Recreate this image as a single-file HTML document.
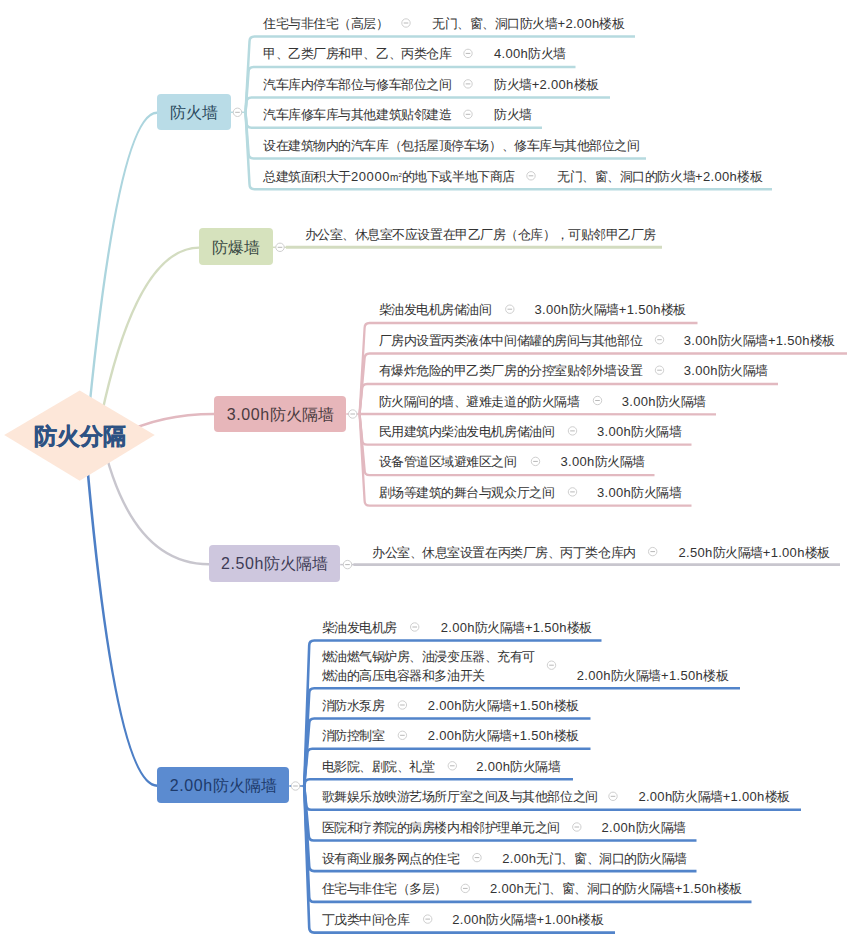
<!DOCTYPE html>
<html><head><meta charset="utf-8"><style>
html,body{margin:0;padding:0;background:#fff;}
body{width:853px;height:943px;position:relative;overflow:hidden;font-family:"Liberation Sans",sans-serif;}
svg{position:absolute;left:0;top:0;}
.box{position:absolute;border-radius:4px;text-align:center;white-space:nowrap;}
.t{position:absolute;white-space:nowrap;font-size:13px;letter-spacing:-0.45px;color:#333;}
.t .l{letter-spacing:0.3px;}
.box .l{letter-spacing:0.6px;}
.m2{font-size:10px;letter-spacing:0;}
.m2 sup{font-size:6px;vertical-align:4px;line-height:0;}
.root{position:absolute;left:0;top:421px;width:160px;text-align:center;font-size:23px;font-weight:bold;color:#2d5283;line-height:30px;-webkit-text-stroke:0.4px #2d5283;}
</style></head><body>
<svg width="853" height="943" viewBox="0 0 853 943">
<path d="M86.7,435 Q117.2,112.8 157,112.8" fill="none" stroke="#acd5de" stroke-width="2.4"/>
<line x1="231" y1="112.3" x2="246.5" y2="112.3" stroke="#b6dadf" stroke-width="1.5"/>
<path d="M245.5,112.3 L249.50,41.5 Q249.50,36.5 254.50,36.5 L635,36.5" fill="none" stroke="#b6dadf" stroke-width="2.5" stroke-linejoin="round"/>
<circle cx="406" cy="23.0" r="4.2" fill="#fff" stroke="#cfcfcf" stroke-width="1"/><line x1="403.7" y1="23.0" x2="408.3" y2="23.0" stroke="#b8b8b8" stroke-width="1"/>
<path d="M245.5,112.3 L248.53,71.9 Q248.53,66.9 253.53,66.9 L575.5,66.9" fill="none" stroke="#b6dadf" stroke-width="2.5" stroke-linejoin="round"/>
<circle cx="468" cy="53.400000000000006" r="4.2" fill="#fff" stroke="#cfcfcf" stroke-width="1"/><line x1="465.7" y1="53.400000000000006" x2="470.3" y2="53.400000000000006" stroke="#b8b8b8" stroke-width="1"/>
<path d="M245.5,112.3 L246.49,102.4 Q246.49,97.4 251.49,97.4 L610,97.4" fill="none" stroke="#b6dadf" stroke-width="2.5" stroke-linejoin="round"/>
<circle cx="468" cy="83.9" r="4.2" fill="#fff" stroke="#cfcfcf" stroke-width="1"/><line x1="465.7" y1="83.9" x2="470.3" y2="83.9" stroke="#b8b8b8" stroke-width="1"/>
<path d="M245.5,112.3 L246.53,122.8 Q246.53,127.8 251.53,127.8 L542,127.8" fill="none" stroke="#b6dadf" stroke-width="2.5" stroke-linejoin="round"/>
<circle cx="468" cy="114.3" r="4.2" fill="#fff" stroke="#cfcfcf" stroke-width="1"/><line x1="465.7" y1="114.3" x2="470.3" y2="114.3" stroke="#b8b8b8" stroke-width="1"/>
<path d="M245.5,112.3 L248.58,153.5 Q248.58,158.5 253.58,158.5 L646,158.5" fill="none" stroke="#b6dadf" stroke-width="2.5" stroke-linejoin="round"/>
<path d="M245.5,112.3 L249.50,184.3 Q249.50,189.3 254.50,189.3 L772,189.3" fill="none" stroke="#b6dadf" stroke-width="2.5" stroke-linejoin="round"/>
<circle cx="531" cy="175.8" r="4.2" fill="#fff" stroke="#cfcfcf" stroke-width="1"/><line x1="528.7" y1="175.8" x2="533.3" y2="175.8" stroke="#b8b8b8" stroke-width="1"/>
<circle cx="237.5" cy="112.3" r="4.2" fill="#fff" stroke="#cfcfcf" stroke-width="1"/><line x1="235.2" y1="112.3" x2="239.8" y2="112.3" stroke="#b8b8b8" stroke-width="1"/>
<path d="M97.5,435 Q133.8,247.6 199.4,247.6" fill="none" stroke="#d3dcc0" stroke-width="2.4"/>
<line x1="273.0" y1="247.3" x2="288" y2="247.3" stroke="#d3dcc0" stroke-width="1.5"/>
<line x1="286" y1="247.3" x2="662" y2="247.3" stroke="#d3dcc0" stroke-width="3"/>
<circle cx="280" cy="247.3" r="4.2" fill="#fff" stroke="#cfcfcf" stroke-width="1"/><line x1="277.7" y1="247.3" x2="282.3" y2="247.3" stroke="#b8b8b8" stroke-width="1"/>
<path d="M120,435 Q160,414 214.3,414" fill="none" stroke="#e2b9c0" stroke-width="2.4"/>
<line x1="346.3" y1="414" x2="360.6" y2="414" stroke="#e2b9c0" stroke-width="1.5"/>
<path d="M359.6,414 L364.60,328 Q364.60,323 369.60,323 L697.5,323" fill="none" stroke="#e2b9c0" stroke-width="2.3" stroke-linejoin="round"/>
<circle cx="509.8" cy="309.2" r="4.2" fill="#fff" stroke="#cfcfcf" stroke-width="1"/><line x1="507.5" y1="309.2" x2="512.1" y2="309.2" stroke="#b8b8b8" stroke-width="1"/>
<path d="M359.6,414 L364.60,358.5 Q364.60,353.5 369.60,353.5 L847,353.5" fill="none" stroke="#e2b9c0" stroke-width="2.3" stroke-linejoin="round"/>
<circle cx="659.5" cy="339.7" r="4.2" fill="#fff" stroke="#cfcfcf" stroke-width="1"/><line x1="657.2" y1="339.7" x2="661.8" y2="339.7" stroke="#b8b8b8" stroke-width="1"/>
<path d="M359.6,414 L362.10,389 Q362.10,384 367.10,384 L778,384" fill="none" stroke="#e2b9c0" stroke-width="2.3" stroke-linejoin="round"/>
<circle cx="659.5" cy="370.2" r="4.2" fill="#fff" stroke="#cfcfcf" stroke-width="1"/><line x1="657.2" y1="370.2" x2="661.8" y2="370.2" stroke="#b8b8b8" stroke-width="1"/>
<path d="M359.6,414 L716,414.3" fill="none" stroke="#e2b9c0" stroke-width="2.3" stroke-linejoin="round"/>
<circle cx="597.5" cy="400.5" r="4.2" fill="#fff" stroke="#cfcfcf" stroke-width="1"/><line x1="595.2" y1="400.5" x2="599.8" y2="400.5" stroke="#b8b8b8" stroke-width="1"/>
<path d="M359.6,414 L362.16,439.7 Q362.16,444.7 367.16,444.7 L691.5,444.7" fill="none" stroke="#e2b9c0" stroke-width="2.3" stroke-linejoin="round"/>
<circle cx="572.5" cy="430.9" r="4.2" fill="#fff" stroke="#cfcfcf" stroke-width="1"/><line x1="570.2" y1="430.9" x2="574.8" y2="430.9" stroke="#b8b8b8" stroke-width="1"/>
<path d="M359.6,414 L364.60,470.2 Q364.60,475.2 369.60,475.2 L654.5,475.2" fill="none" stroke="#e2b9c0" stroke-width="2.3" stroke-linejoin="round"/>
<circle cx="535.5" cy="461.4" r="4.2" fill="#fff" stroke="#cfcfcf" stroke-width="1"/><line x1="533.2" y1="461.4" x2="537.8" y2="461.4" stroke="#b8b8b8" stroke-width="1"/>
<path d="M359.6,414 L364.60,500.7 Q364.60,505.7 369.60,505.7 L691.5,505.7" fill="none" stroke="#e2b9c0" stroke-width="2.3" stroke-linejoin="round"/>
<circle cx="572.5" cy="491.9" r="4.2" fill="#fff" stroke="#cfcfcf" stroke-width="1"/><line x1="570.2" y1="491.9" x2="574.8" y2="491.9" stroke="#b8b8b8" stroke-width="1"/>
<circle cx="352.7" cy="414" r="4.2" fill="#fff" stroke="#cfcfcf" stroke-width="1"/><line x1="350.4" y1="414" x2="355.0" y2="414" stroke="#b8b8b8" stroke-width="1"/>
<path d="M101.2,435 Q129.6,564.2 209,564.2" fill="none" stroke="#c8c6ce" stroke-width="2.4"/>
<line x1="340.2" y1="564.6" x2="355.5" y2="564.6" stroke="#c8c6ce" stroke-width="1.5"/>
<line x1="353.5" y1="564.6" x2="840" y2="564.6" stroke="#c8c6ce" stroke-width="2.8"/>
<circle cx="652.7" cy="551.6" r="4.2" fill="#fff" stroke="#cfcfcf" stroke-width="1"/><line x1="650.4000000000001" y1="551.6" x2="655.0" y2="551.6" stroke="#b8b8b8" stroke-width="1"/>
<circle cx="347.5" cy="564.6" r="4.2" fill="#fff" stroke="#cfcfcf" stroke-width="1"/><line x1="345.2" y1="564.6" x2="349.8" y2="564.6" stroke="#b8b8b8" stroke-width="1"/>
<path d="M84.6,435 Q113.9,785.7 157.3,785.7" fill="none" stroke="#4d7fc6" stroke-width="2.6"/>
<line x1="289.3" y1="786" x2="305.2" y2="786" stroke="#5284ca" stroke-width="1.5"/>
<path d="M304.2,786 L309.20,645.5 Q309.20,640.5 314.20,640.5 L601.5,640.5" fill="none" stroke="#5284ca" stroke-width="2.6" stroke-linejoin="round"/>
<circle cx="414.7" cy="627.0" r="4.2" fill="#fff" stroke="#cfcfcf" stroke-width="1"/><line x1="412.4" y1="627.0" x2="417.0" y2="627.0" stroke="#b8b8b8" stroke-width="1"/>
<path d="M304.2,786 L309.20,693.2 Q309.20,688.2 314.20,688.2 L740,688.2" fill="none" stroke="#5284ca" stroke-width="2.6" stroke-linejoin="round"/>
<circle cx="551.5" cy="665.2" r="4.2" fill="#fff" stroke="#cfcfcf" stroke-width="1"/><line x1="549.2" y1="665.2" x2="553.8" y2="665.2" stroke="#b8b8b8" stroke-width="1"/>
<path d="M304.2,786 L309.20,723.5 Q309.20,718.5 314.20,718.5 L590.5,718.5" fill="none" stroke="#5284ca" stroke-width="2.6" stroke-linejoin="round"/>
<circle cx="402.4" cy="705.0" r="4.2" fill="#fff" stroke="#cfcfcf" stroke-width="1"/><line x1="400.09999999999997" y1="705.0" x2="404.7" y2="705.0" stroke="#b8b8b8" stroke-width="1"/>
<path d="M304.2,786 L307.30,753.8 Q307.30,748.8 312.30,748.8 L590.5,748.8" fill="none" stroke="#5284ca" stroke-width="2.6" stroke-linejoin="round"/>
<circle cx="402.4" cy="735.3" r="4.2" fill="#fff" stroke="#cfcfcf" stroke-width="1"/><line x1="400.09999999999997" y1="735.3" x2="404.7" y2="735.3" stroke="#b8b8b8" stroke-width="1"/>
<path d="M304.2,786 L304.76,784.3 Q304.76,779.3 309.76,779.3 L573,779.3" fill="none" stroke="#5284ca" stroke-width="2.6" stroke-linejoin="round"/>
<circle cx="452.3" cy="765.8" r="4.2" fill="#fff" stroke="#cfcfcf" stroke-width="1"/><line x1="450.0" y1="765.8" x2="454.6" y2="765.8" stroke="#b8b8b8" stroke-width="1"/>
<path d="M304.2,786 L306.18,804.8 Q306.18,809.8 311.18,809.8 L801,809.8" fill="none" stroke="#5284ca" stroke-width="2.6" stroke-linejoin="round"/>
<circle cx="613" cy="796.3" r="4.2" fill="#fff" stroke="#cfcfcf" stroke-width="1"/><line x1="610.7" y1="796.3" x2="615.3" y2="796.3" stroke="#b8b8b8" stroke-width="1"/>
<path d="M304.2,786 L308.74,835.5 Q308.74,840.5 313.74,840.5 L696.5,840.5" fill="none" stroke="#5284ca" stroke-width="2.6" stroke-linejoin="round"/>
<circle cx="576.8" cy="827.0" r="4.2" fill="#fff" stroke="#cfcfcf" stroke-width="1"/><line x1="574.5" y1="827.0" x2="579.0999999999999" y2="827.0" stroke="#b8b8b8" stroke-width="1"/>
<path d="M304.2,786 L309.20,866.1 Q309.20,871.1 314.20,871.1 L696.5,871.1" fill="none" stroke="#5284ca" stroke-width="2.6" stroke-linejoin="round"/>
<circle cx="477" cy="857.6" r="4.2" fill="#fff" stroke="#cfcfcf" stroke-width="1"/><line x1="474.7" y1="857.6" x2="479.3" y2="857.6" stroke="#b8b8b8" stroke-width="1"/>
<path d="M304.2,786 L309.20,896.9 Q309.20,901.9 314.20,901.9 L751.5,901.9" fill="none" stroke="#5284ca" stroke-width="2.6" stroke-linejoin="round"/>
<circle cx="465.3" cy="888.4" r="4.2" fill="#fff" stroke="#cfcfcf" stroke-width="1"/><line x1="463.0" y1="888.4" x2="467.6" y2="888.4" stroke="#b8b8b8" stroke-width="1"/>
<path d="M304.2,786 L309.20,927.6 Q309.20,932.6 314.20,932.6 L615,932.6" fill="none" stroke="#5284ca" stroke-width="2.6" stroke-linejoin="round"/>
<circle cx="427.7" cy="919.1" r="4.2" fill="#fff" stroke="#cfcfcf" stroke-width="1"/><line x1="425.4" y1="919.1" x2="430.0" y2="919.1" stroke="#b8b8b8" stroke-width="1"/>
<circle cx="295.5" cy="786" r="4.2" fill="#fff" stroke="#cfcfcf" stroke-width="1"/><line x1="293.2" y1="786" x2="297.8" y2="786" stroke="#b8b8b8" stroke-width="1"/>
<polygon points="4.2,435 79.7,390.5 154.7,435 79.7,480.8" fill="#fde7d9"/>
</svg>
<div class="box" style="left:157px;top:93.5px;width:74px;height:36.5px;background:#b9dce7;color:#2b4a5e;font-size:16px;line-height:38.5px">防火墙</div>
<div class="t" style="left:263.1px;top:14.00px;line-height:19px">住宅与非住宅（高层）</div>
<div class="t" style="left:432px;top:14.00px;line-height:19px">无门、窗、洞口防火墙<span class="l">+2.00h</span>楼板</div>
<div class="t" style="left:263.1px;top:44.40px;line-height:19px">甲、乙类厂房和甲、乙、丙类仓库</div>
<div class="t" style="left:494px;top:44.40px;line-height:19px"><span class="l">4.00h</span>防火墙</div>
<div class="t" style="left:263.1px;top:74.90px;line-height:19px">汽车库内停车部位与修车部位之间</div>
<div class="t" style="left:494px;top:74.90px;line-height:19px">防火墙<span class="l">+2.00h</span>楼板</div>
<div class="t" style="left:263.1px;top:105.30px;line-height:19px">汽车库修车库与其他建筑贴邻建造</div>
<div class="t" style="left:494px;top:105.30px;line-height:19px">防火墙</div>
<div class="t" style="left:263.1px;top:136.00px;line-height:19px">设在建筑物内的汽车库（包括屋顶停车场）、修车库与其他部位之间</div>
<div class="t" style="left:263.1px;top:166.80px;line-height:19px">总建筑面积大于<span class="l" style="letter-spacing:0.6px">20000</span><span class="m2">m<sup>2</sup></span>的地下或半地下商店</div>
<div class="t" style="left:557px;top:166.80px;line-height:19px">无门、窗、洞口的防火墙<span class="l">+2.00h</span>楼板</div>
<div class="box" style="left:199.4px;top:228px;width:73.6px;height:37px;background:#d6e2bd;color:#3b4b45;font-size:16px;line-height:39px">防爆墙</div>
<div class="t" style="left:304.5px;top:225.30px;line-height:19px">办公室、休息室不应设置在甲乙厂房（仓库），可贴邻甲乙厂房</div>
<div class="box" style="left:214.3px;top:395.8px;width:132px;height:36px;background:#e7b6ba;color:#4a3b40;font-size:16px;line-height:38px"><span class="l">3.00h</span>防火隔墙</div>
<div class="t" style="left:378.5px;top:300.20px;line-height:19px">柴油发电机房储油间</div>
<div class="t" style="left:534.6px;top:300.20px;line-height:19px"><span class="l">3.00h</span>防火隔墙<span class="l">+1.50h</span>楼板</div>
<div class="t" style="left:378.5px;top:330.70px;line-height:19px">厂房内设置丙类液体中间储罐的房间与其他部位</div>
<div class="t" style="left:683.7px;top:330.70px;line-height:19px"><span class="l">3.00h</span>防火隔墙<span class="l">+1.50h</span>楼板</div>
<div class="t" style="left:378.5px;top:361.20px;line-height:19px">有爆炸危险的甲乙类厂房的分控室贴邻外墙设置</div>
<div class="t" style="left:683.7px;top:361.20px;line-height:19px"><span class="l">3.00h</span>防火隔墙</div>
<div class="t" style="left:378.5px;top:391.50px;line-height:19px">防火隔间的墙、避难走道的防火隔墙</div>
<div class="t" style="left:621.8px;top:391.50px;line-height:19px"><span class="l">3.00h</span>防火隔墙</div>
<div class="t" style="left:378.5px;top:421.90px;line-height:19px">民用建筑内柴油发电机房储油间</div>
<div class="t" style="left:597px;top:421.90px;line-height:19px"><span class="l">3.00h</span>防火隔墙</div>
<div class="t" style="left:378.5px;top:452.40px;line-height:19px">设备管道区域避难区之间</div>
<div class="t" style="left:560.6px;top:452.40px;line-height:19px"><span class="l">3.00h</span>防火隔墙</div>
<div class="t" style="left:378.5px;top:482.90px;line-height:19px">剧场等建筑的舞台与观众厅之间</div>
<div class="t" style="left:597px;top:482.90px;line-height:19px"><span class="l">3.00h</span>防火隔墙</div>
<div class="box" style="left:209px;top:545.4px;width:131.2px;height:36.4px;background:#cec7de;color:#3d3b55;font-size:16px;line-height:38.4px"><span class="l">2.50h</span>防火隔墙</div>
<div class="t" style="left:372.1px;top:542.60px;line-height:19px">办公室、休息室设置在丙类厂房、丙丁类仓库内</div>
<div class="t" style="left:678.5px;top:542.60px;line-height:19px"><span class="l">2.50h</span>防火隔墙<span class="l">+1.00h</span>楼板</div>
<div class="box" style="left:157.3px;top:767.3px;width:132px;height:36.2px;background:#5b8bd0;color:#1d3a6a;font-size:16px;line-height:38.2px"><span class="l">2.00h</span>防火隔墙</div>
<div class="t" style="left:321.5px;top:618.00px;line-height:19px">柴油发电机房</div>
<div class="t" style="left:440.7px;top:618.00px;line-height:19px"><span class="l">2.00h</span>防火隔墙<span class="l">+1.50h</span>楼板</div>
<div class="t" style="left:321.5px;top:646.70px;line-height:19px">燃油燃气锅炉房、油浸变压器、充有可<br>燃油的高压电容器和多油开关</div>
<div class="t" style="left:576.8px;top:665.70px;line-height:19px"><span class="l">2.00h</span>防火隔墙<span class="l">+1.50h</span>楼板</div>
<div class="t" style="left:321.5px;top:696.00px;line-height:19px">消防水泵房</div>
<div class="t" style="left:427.7px;top:696.00px;line-height:19px"><span class="l">2.00h</span>防火隔墙<span class="l">+1.50h</span>楼板</div>
<div class="t" style="left:321.5px;top:726.30px;line-height:19px">消防控制室</div>
<div class="t" style="left:427.7px;top:726.30px;line-height:19px"><span class="l">2.00h</span>防火隔墙<span class="l">+1.50h</span>楼板</div>
<div class="t" style="left:321.5px;top:756.80px;line-height:19px">电影院、剧院、礼堂</div>
<div class="t" style="left:476.3px;top:756.80px;line-height:19px"><span class="l">2.00h</span>防火隔墙</div>
<div class="t" style="left:321.5px;top:787.30px;line-height:19px">歌舞娱乐放映游艺场所厅室之间及与其他部位之间</div>
<div class="t" style="left:638.4px;top:787.30px;line-height:19px"><span class="l">2.00h</span>防火隔墙<span class="l">+1.00h</span>楼板</div>
<div class="t" style="left:321.5px;top:818.00px;line-height:19px">医院和疗养院的病房楼内相邻护理单元之间</div>
<div class="t" style="left:601.5px;top:818.00px;line-height:19px"><span class="l">2.00h</span>防火隔墙</div>
<div class="t" style="left:321.5px;top:848.60px;line-height:19px">设有商业服务网点的住宅</div>
<div class="t" style="left:502.3px;top:848.60px;line-height:19px"><span class="l">2.00h</span>无门、窗、洞口的防火隔墙</div>
<div class="t" style="left:321.5px;top:879.40px;line-height:19px">住宅与非住宅（多层）</div>
<div class="t" style="left:490px;top:879.40px;line-height:19px"><span class="l">2.00h</span>无门、窗、洞口的防火隔墙<span class="l">+1.50h</span>楼板</div>
<div class="t" style="left:321.5px;top:910.10px;line-height:19px">丁戊类中间仓库</div>
<div class="t" style="left:452.3px;top:910.10px;line-height:19px"><span class="l">2.00h</span>防火隔墙<span class="l">+1.00h</span>楼板</div>
<div class="root">防火分隔</div>
</body></html>
